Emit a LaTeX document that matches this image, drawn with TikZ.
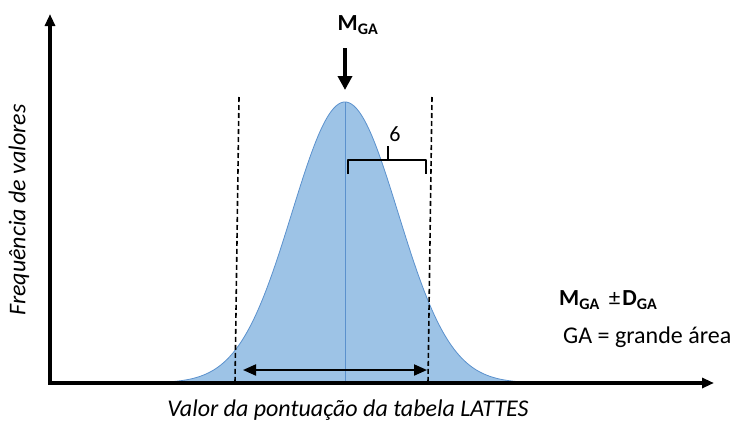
\documentclass[tikz,border=0pt]{standalone}
\usepackage{fontspec}
\setmainfont{Carlito}
\usetikzlibrary{arrows.meta}
\definecolor{bellfill}{RGB}{157,195,230}
\definecolor{bellline}{RGB}{91,145,205}
\tikzset{
  axis/.style={line width=3.5pt,-{Triangle[length=12pt,width=10pt]}},
  guide/.style={line width=1.6pt,dash pattern=on 5pt off 3pt},
  lbl/.style={inner sep=0pt,font=\fontsize{24}{28}\selectfont},
}
\begin{document}
\begin{tikzpicture}[x=1pt,y=-1pt]
\useasboundingbox (0,0) rectangle (738,426);
% bell curve
\fill[bellfill,draw=bellline,line width=0.8pt] plot[domain=158:532,samples=150,smooth] (\x,{383-281*exp(-0.5*((\x-345)/53)^2)}) -- cycle;
\coordinate (peak) at (345,102);
\coordinate (base) at (345,383);
\draw[bellline,line width=1pt] (peak) -- (base);
% dashed guides
\coordinate (lt) at (239,97); \coordinate (lb) at (235,383);
\coordinate (rt) at (432,97); \coordinate (rb) at (428,383);
\draw[guide] (lt) -- (lb);
\draw[guide] (rt) -- (rb);
% axes
\coordinate (origin) at (50,383);
\coordinate (ytop) at (50,14);
\coordinate (xend) at (714,383);
\draw[line width=3.5pt,line join=miter,-{Triangle[length=12pt,width=10pt]}] (100,383) -- (origin) -- (ytop);
\draw[axis] (origin) -- (xend);
% double arrow
\coordinate (da) at (243,370); \coordinate (db) at (427,370);
\draw[line width=2pt,{Triangle[length=13pt,width=11pt]}-{Triangle[length=13pt,width=11pt]}] (da) -- (db);
% bracket
\coordinate (b1) at (348,174); \coordinate (b2) at (348,160);
\coordinate (b3) at (426,160); \coordinate (b4) at (426,174);
\coordinate (bm) at (388,160); \coordinate (bt) at (388,146);
\draw[line width=1.8pt,line join=round] (b1) -- (b2) -- (b3) -- (b4);
\draw[line width=1.8pt] (bm) -- (bt);
\node[lbl,anchor=south,font=\fontsize{22}{24}\selectfont] (six) at (395,142) {6};
% M_GA and arrow
\node[lbl,font=\fontsize{23}{26}\selectfont\bfseries] (mga) at (358,25) {M\textsubscript{GA}};
\coordinate (ma) at (345,48); \coordinate (mb) at (345,90);
\draw[line width=4pt,-{Triangle[length=14pt,width=14pt]}] (ma) -- (mb);
% legend
\node[lbl,anchor=west,font=\fontsize{23}{26}\selectfont\bfseries] (leg1) at (559,300) {M\textsubscript{GA}\hspace{9pt}{\mdseries\textpm}\hspace{2pt}D\textsubscript{GA}};
\node[lbl,anchor=west] (leg2) at (563,337) {GA = grande área};
% axis labels
\node[lbl,font=\fontsize{24}{28}\selectfont\itshape,rotate=90] (ylab) at (19,210) {Frequência de valores};
\node[lbl,font=\fontsize{24}{28}\selectfont\itshape] (xlab) at (348,410) {Valor da pontuação da tabela LATTES};
\end{tikzpicture}
\end{document}
